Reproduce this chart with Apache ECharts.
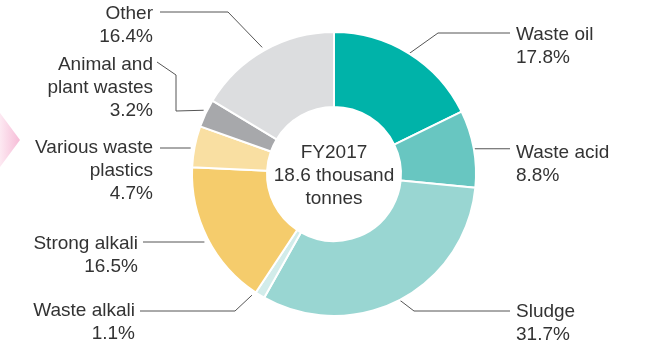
<!DOCTYPE html>
<html>
<head>
<meta charset="utf-8">
<script src="https://cdn.jsdelivr.net/npm/echarts@6/dist/echarts.min.js"></script>
<style>html,body{margin:0;padding:0;background:#fff}#c{width:651px;height:346px}</style>
</head>
<body>
<div id="c"></div>
<script>
const categories = ['Waste oil', 'Waste acid', 'Sludge', 'Waste alkali', 'Strong alkali', 'Various waste\nplastics', 'Animal and\nplant wastes', 'Other'];
const shares = [17.8, 8.8, 31.7, 1.1, 16.5, 4.7, 3.2, 16.4];
const colors = ['#00b3a9', '#68c6c1', '#99d6d2', '#d2ecea', '#f5cc6c', '#f9dfa2', '#a7a8ab', '#dcdddf'];
const centerLines = ['FY2017', '18.6 thousand', 'tonnes'];

const FONT = '"Liberation Sans", Arial, Helvetica, sans-serif';
const CX = 334, CY = 174, R0 = 67, R1 = 142;
const LH = 23;
const FS = 19;

// label anchor (text edge x, first line centre y) and leader routing per slice
const layoutCfg = [
  {side: 'right', tx: 516, ty: 35, route: p => [p, [438, 33], [510, 33]]},
  {side: 'right', tx: 516, ty: 153, route: p => [p, [510, p[1]]]},
  {side: 'right', tx: 516, ty: 312, route: p => [p, [414, 311], [510, 311]]},
  {side: 'left', tx: 135, ty: 311, route: p => [[p[0] - 8, p[1]], [235, 311], [140, 311]]},
  {side: 'left', tx: 138, ty: 244, route: p => [[p[0] - 3, 242], [143, 242]]},
  {side: 'left', tx: 153, ty: 148, route: p => [[p[0] - 4, 148], [160, 148]]},
  {side: 'left', tx: 153, ty: 65, route: p => [[p[0] - 2, p[1] - 3], [176, 111], [176, 75], [157, 62]]},
  {side: 'left', tx: 153, ty: 14, route: p => [[p[0] - 2, p[1] - 3], [228, 12], [160, 12]]}
];

const chart = echarts.init(document.getElementById('c'), null, {renderer: 'canvas'});
chart.setOption({
  animation: false,
  graphic: [
    {
      type: 'polygon',
      shape: {points: [[0, 113], [20, 140], [0, 167]]},
      style: {fill: new echarts.graphic.LinearGradient(0, 0, 1, 0, [
        {offset: 0, color: '#fde9f2'}, {offset: 1, color: '#f6bcd7'}
      ])}
    },
    {
      type: 'text',
      x: CX, y: CY + 2,
      style: {
        text: centerLines.join('\n'),
        font: FS + 'px ' + FONT,
        lineHeight: LH,
        fill: '#333',
        align: 'center',
        verticalAlign: 'middle'
      }
    }
  ],
  series: [{
    type: 'pie',
    center: [CX, CY],
    radius: [R0, R1],
    startAngle: 90,
    clockwise: true,
    avoidLabelOverlap: false,
    itemStyle: {borderColor: '#fff', borderWidth: 2},
    label: {
      show: true,
      position: 'outside',
      formatter: p => p.name + '\n' + p.value.toFixed(1) + '%',
      fontFamily: FONT,
      fontSize: FS,
      lineHeight: LH,
      color: '#333'
    },
    labelLine: {show: true, lineStyle: {color: '#555', width: 1}},
    labelLayout: function (params) {
      const cfg = layoutCfg[params.dataIndex];
      const p = params.labelLinePoints ? params.labelLinePoints[0] : [CX, CY];
      return {
        x: cfg.tx,
        y: cfg.ty - LH / 2,
        align: cfg.side === 'right' ? 'left' : 'right',
        verticalAlign: 'top',
        labelLinePoints: cfg.route(p)
      };
    },
    emphasis: {disabled: true},
    data: categories.map((c, i) => ({name: c, value: shares[i], itemStyle: {color: colors[i]}}))
  }]
});
</script>
</body>
</html>
